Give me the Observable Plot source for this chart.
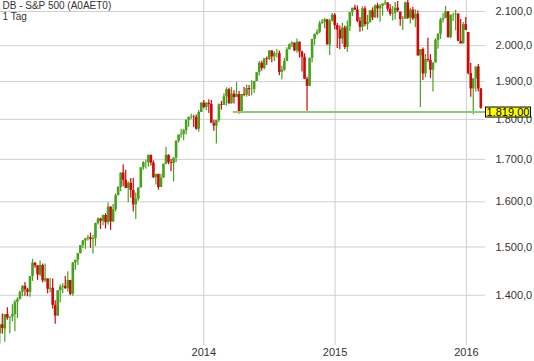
<!DOCTYPE html>
<html><head><meta charset="utf-8">
<script src="https://cdn.jsdelivr.net/npm/d3@7"></script>
<script src="https://cdn.jsdelivr.net/npm/@observablehq/plot@0.6"></script>
<style>
html,body{margin:0;padding:0;background:#fff;}
#chart{width:534px;height:361px;}
</style></head><body><div id="chart"></div>
<script>
const title = "DB - S&P 500 (A0AET0)";
const subtitle = "1 Tag";
const firstWeek = "2012-06-13";
// weekly candles [open, high, low, close]
const w2012 = [
[1325,1343,1306,1342],[1342,1363,1324,1335],[1334,1362,1309,1362],[1362,1375,1351,1355],
[1355,1357,1325,1357],[1357,1381,1348,1362],[1362,1390,1329,1386],[1386,1395,1354,1391],
[1391,1408,1391,1406],[1406,1419,1397,1418],[1418,1426,1398,1411],[1411,1414,1397,1406],
[1406,1438,1396,1438],[1438,1474,1428,1466],[1466,1466,1455,1460],[1460,1461,1430,1441],
[1441,1470,1438,1461],[1461,1464,1425,1429],[1429,1464,1426,1433],[1433,1433,1403,1412],
[1412,1434,1405,1414],[1414,1433,1373,1380],[1380,1389,1343,1359],[1359,1409,1358,1409],
[1409,1421,1385,1416],[1416,1423,1403,1418],[1418,1438,1412,1413],[1413,1448,1406,1430],
[1430,1430,1399,1402],[1402,1467,1398,1466]
];
const w2013 = [
[1466,1472,1451,1472],[1472,1486,1461,1486],[1486,1503,1485,1503],[1503,1514,1496,1513],
[1513,1518,1495,1518],[1518,1525,1513,1520],[1520,1530,1497,1516],[1516,1525,1485,1518],
[1518,1552,1501,1551],[1551,1564,1548,1561],[1561,1563,1538,1556],[1556,1570,1546,1569],
[1569,1573,1539,1553],[1553,1597,1548,1588],[1588,1588,1536,1555],[1555,1594,1553,1582],
[1582,1618,1577,1614],[1614,1635,1614,1633],[1633,1667,1623,1667],[1667,1687,1635,1650],
[1650,1674,1630,1631],[1631,1646,1598,1643],[1643,1654,1608,1626],[1626,1654,1577,1593],
[1593,1620,1560,1606],[1606,1632,1601,1632],[1632,1680,1632,1680],[1680,1694,1674,1692],
[1692,1698,1676,1692],[1692,1710,1681,1710],[1710,1710,1684,1691],[1691,1696,1654,1656],
[1656,1664,1639,1664],[1664,1664,1627,1633],[1633,1664,1633,1655],[1655,1689,1655,1688],
[1688,1730,1687,1710],[1710,1711,1687,1692],[1692,1700,1670,1690],[1690,1704,1646,1703],
[1703,1745,1692,1745],[1745,1760,1740,1760],[1760,1775,1752,1762],[1762,1774,1746,1771],
[1771,1798,1760,1798],[1798,1806,1780,1805],[1805,1813,1800,1806],[1806,1810,1779,1805],
[1805,1811,1772,1775],[1775,1823,1767,1818],[1818,1844,1818,1842],[1842,1849,1827,1831]
];
const w2014 = [
[1831,1843,1823,1842],[1842,1851,1815,1839],[1839,1849,1790,1790],[1790,1798,1770,1783],
[1783,1798,1738,1797],[1797,1840,1792,1838],[1838,1847,1824,1836],[1836,1867,1836,1859],
[1859,1883,1834,1878],[1878,1882,1839,1841],[1841,1884,1839,1866],[1866,1875,1840,1857],
[1857,1897,1857,1865],[1865,1873,1814,1815],[1815,1865,1815,1865],[1865,1884,1859,1863],
[1863,1891,1858,1881],[1881,1889,1860,1878],[1878,1902,1862,1878],[1878,1901,1868,1900],
[1900,1924,1900,1924],[1924,1955,1915,1950],[1950,1956,1929,1936],[1936,1963,1932,1963],
[1963,1968,1944,1961],[1961,1985,1958,1985],[1985,1985,1952,1968],[1968,1983,1955,1978],
[1978,1989,1965,1978],[1978,1985,1916,1925],[1925,1942,1905,1931],[1931,1964,1928,1955],
[1955,1994,1955,1988],[1988,2005,1988,2003],[2003,2011,1995,2007],[2007,2008,1983,1985],
[1985,2019,1978,2010],[2010,2010,1965,1982],[1982,1985,1926,1967],[1967,1977,1906,1906],
[1906,1912,1821,1887],[1887,1965,1886,1964],[1964,2018,1951,2018],[2018,2034,2001,2032],
[2032,2046,2030,2039],[2039,2071,2034,2064],[2064,2076,2062,2068],[2068,2079,2049,2075],
[2075,2076,2002,2002],[2002,2077,1972,2071],[2071,2094,2069,2089],[2089,2093,2046,2058]
];
const w2015 = [
[2058,2064,1992,2045],[2045,2057,1988,2019],[2019,2065,2004,2051],[2051,2057,1989,1995],
[1995,2072,1981,2055],[2055,2097,2041,2097],[2097,2110,2085,2110],[2110,2119,2103,2105],
[2105,2117,2067,2071],[2071,2082,2039,2053],[2053,2114,2041,2108],[2108,2114,2055,2061],
[2061,2089,2045,2067],[2067,2103,2065,2102],[2102,2111,2073,2081],[2081,2120,2080,2117],
[2117,2125,2080,2108],[2108,2121,2068,2116],[2116,2123,2086,2123],[2123,2135,2118,2126],
[2126,2126,2099,2107],[2107,2121,2086,2092],[2092,2115,2072,2094],[2094,2127,2075,2110],
[2110,2130,2097,2102],[2098,2098,2056,2076],[2076,2085,2044,2077],[2077,2129,2077,2126],
[2126,2133,2076,2080],[2080,2110,2063,2104],[2104,2113,2073,2078],[2078,2105,2052,2092],
[2092,2102,1970,1971],[1971,1989,1831,1989],[1989,1993,1903,1921],[1921,1975,1910,1961],
[1961,2021,1953,1958],[1958,1975,1908,1931],[1931,1951,1872,1951],[1951,2020,1951,2015],
[2015,2034,1990,2033],[2033,2080,2018,2075],[2075,2094,2066,2079],[2079,2116,2079,2099],
[2099,2099,2022,2023],[2023,2089,2020,2089],[2089,2095,2070,2090],[2090,2104,2042,2092],
[2092,2093,2012,2012],[2012,2076,2005,2005],[2005,2067,2005,2061],[2061,2082,2044,2044]
];
const w2016 = [
[2038,2038,1918,1922],[1922,1950,1858,1880],[1880,1908,1812,1907],[1907,1940,1872,1940],
[1940,1947,1872,1880],[1880,1881,1826,1829]
];
const yTicks = [1400, 1500, 1600, 1700, 1800, 1900, 2000, 2100];
const xTicks = ["2014-01-01", "2015-01-01", "2016-01-01"];
const supportLevel = 1819;
const supportStart = "2014-03-24";
const supportLabel = "1.819,00";
const xDomain = ["2012-06-15", "2016-02-23"];
const yDomain = [1303, 2133.3];

const rows = [...w2012, ...w2013, ...w2014, ...w2015, ...w2016].map((r, i) => ({
  date: d3.utcDay.offset(new Date(firstWeek), 7 * i),
  open: r[0], high: r[1], low: r[2], close: r[3],
  dir: r[3] >= r[0] ? "up" : "down"
}));
const de = d3.formatLocale({decimal: ",", thousands: ".", grouping: [3], currency: ["", "€"]});
const fmt = de.format(",.1f");
const xTickDates = xTicks.map(d => new Date(d));

const plot = Plot.plot({
  width: 534, height: 361,
  marginLeft: 0, marginRight: 49, marginTop: 0, marginBottom: 16,
  style: {fontFamily: "Arial, 'Liberation Sans', sans-serif", fontSize: "11px", color: "#333", background: "#fff"},
  x: {type: "utc", domain: xDomain.map(d => new Date(d)), ticks: xTickDates, tickFormat: d3.utcFormat("%Y"), tickSize: 0, tickPadding: 3, label: null},
  y: {type: "log", domain: yDomain, ticks: yTicks, tickFormat: fmt, tickSize: 0, tickPadding: 10, label: null, axis: "right"},
  color: {domain: ["up", "down"], range: ["#48a01c", "#cf0808"]},
  marks: [
    Plot.ruleY(yTicks, {stroke: "#d0d0d0", strokeWidth: 1}),
    Plot.ruleX(xTickDates, {stroke: "#d0d0d0", strokeWidth: 1}),
    Plot.ruleX(rows, {x: "date", y1: "low", y2: "high", stroke: "dir", strokeWidth: 1.2, clip: true}),
    Plot.ruleX(rows, {x: "date", y1: "open", y2: "close", stroke: "dir", strokeWidth: 2.6, clip: true}),
    Plot.ruleY([{y: supportLevel, x1: new Date(supportStart), x2: new Date(xDomain[1])}], {y: "y", x1: "x1", x2: "x2", stroke: "#8cc97a", strokeWidth: 2}),
    Plot.text([title], {text: d => d, frameAnchor: "top-left", dx: 2, dy: 1, fontSize: 10, fill: "#333", textAnchor: "start", lineAnchor: "top"}),
    Plot.text([subtitle], {text: d => d, frameAnchor: "top-left", dx: 2, dy: 12, fontSize: 10, fill: "#333", textAnchor: "start", lineAnchor: "top"})
  ]
});
document.getElementById("chart").append(plot);

// value label box on the right axis
const yS = plot.scale("y");
const xS = plot.scale("x");
const yy = yS.apply(supportLevel);
const xr = xS.range[1];
const svg = d3.select(plot);
const g = svg.append("g");
g.append("rect").attr("x", xr + 0.5).attr("y", yy - 4.5).attr("width", 45).attr("height", 10)
  .attr("fill", "#ffff00").attr("stroke", "#000").attr("stroke-width", 1);
g.append("text").attr("x", xr + 23).attr("y", yy + 0.5).attr("dy", "0.35em")
  .attr("text-anchor", "middle").attr("font-size", "11px").attr("fill", "#000").text(supportLabel);
</script>
</body></html>
